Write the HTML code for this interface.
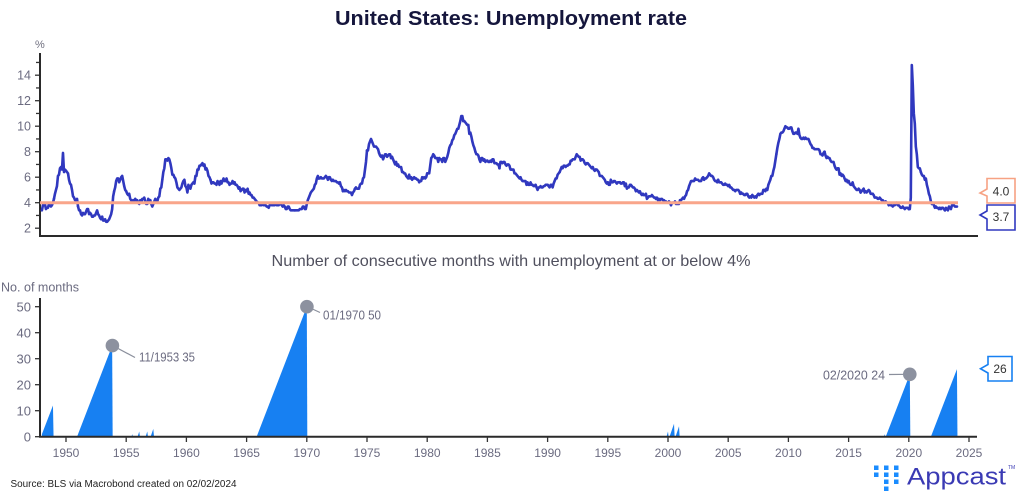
<!DOCTYPE html>
<html><head><meta charset="utf-8"><style>
html,body{margin:0;padding:0;background:#fff;}
svg{display:block;}
text{font-family:"Liberation Sans",sans-serif;}
</style></head><body>
<svg width="1024" height="502" viewBox="0 0 1024 502" xmlns="http://www.w3.org/2000/svg">
<rect width="1024" height="502" fill="#fff"/>
<!-- Title -->
<text x="511" y="25" text-anchor="middle" font-size="20" font-weight="bold" fill="#15163c" textLength="352" lengthAdjust="spacingAndGlyphs">United States: Unemployment rate</text>

<!-- TOP CHART -->
<text x="35" y="48" font-size="11" fill="#707080">%</text>
<g stroke="#333" stroke-width="1.3">
<line x1="35" y1="228.2" x2="40" y2="228.2"/><line x1="36" y1="215.45" x2="40" y2="215.45"/>
<line x1="35" y1="202.7" x2="40" y2="202.7"/><line x1="36" y1="189.95" x2="40" y2="189.95"/>
<line x1="35" y1="177.2" x2="40" y2="177.2"/><line x1="36" y1="164.45" x2="40" y2="164.45"/>
<line x1="35" y1="151.7" x2="40" y2="151.7"/><line x1="36" y1="138.95" x2="40" y2="138.95"/>
<line x1="35" y1="126.2" x2="40" y2="126.2"/><line x1="36" y1="113.45" x2="40" y2="113.45"/>
<line x1="35" y1="100.7" x2="40" y2="100.7"/><line x1="36" y1="87.95" x2="40" y2="87.95"/>
<line x1="35" y1="75.2" x2="40" y2="75.2"/><line x1="36" y1="62.45" x2="40" y2="62.45"/>
</g>
<g font-size="12.5" fill="#6b6b80" text-anchor="end">
<text x="31" y="232.5">2</text><text x="31" y="207">4</text><text x="31" y="181.5">6</text>
<text x="31" y="156">8</text><text x="31" y="130.5">10</text><text x="31" y="105">12</text><text x="31" y="79.5">14</text>
</g>
<line x1="40" y1="53" x2="40" y2="237" stroke="#2a2a2a" stroke-width="2"/>
<line x1="39" y1="236" x2="978" y2="236" stroke="#2a2a2a" stroke-width="2"/>

<g transform="matrix(1.00333 0 0 -12.75 41.92 253.7)" fill="none" stroke="#3038bf" stroke-width="2.6" stroke-linejoin="round" stroke-linecap="round">
<g vector-effect="non-scaling-stroke">
<polyline vector-effect="non-scaling-stroke" transform="translate(0,0)" points="0,3.4 1,3.8 2,4.0 3,3.9 4,3.5 5,3.6 6,3.6 7,3.9 8,3.8 9,3.7 10,3.8 11,4.0 12,4.3"/>
<polyline vector-effect="non-scaling-stroke" transform="translate(12,0)" points="0,4.3 1,4.7 2,5.0 3,5.3 4,6.1 5,6.2 6,6.7 7,6.8 8,6.6 9,7.9 10,6.4 11,6.6 12,6.5"/>
<polyline vector-effect="non-scaling-stroke" transform="translate(24,0)" points="0,6.5 1,6.4 2,6.3 3,5.8 4,5.5 5,5.4 6,5.0 7,4.5 8,4.4 9,4.2 10,4.2 11,4.3 12,3.7"/>
<polyline vector-effect="non-scaling-stroke" transform="translate(36,0)" points="0,3.7 1,3.4 2,3.4 3,3.1 4,3.0 5,3.2 6,3.1 7,3.1 8,3.3 9,3.5 10,3.5 11,3.1 12,3.2"/>
<polyline vector-effect="non-scaling-stroke" transform="translate(48,0)" points="0,3.2 1,3.1 2,2.9 3,2.9 4,3.0 5,3.0 6,3.2 7,3.4 8,3.1 9,3.0 10,2.8 11,2.7 12,2.9"/>
<polyline vector-effect="non-scaling-stroke" transform="translate(60,0)" points="0,2.9 1,2.6 2,2.6 3,2.7 4,2.5 5,2.5 6,2.6 7,2.7 8,2.9 9,3.1 10,3.5 11,4.5 12,4.9"/>
<polyline vector-effect="non-scaling-stroke" transform="translate(72,0)" points="0,4.9 1,5.2 2,5.7 3,5.9 4,5.9 5,5.6 6,5.8 7,6.0 8,6.1 9,5.7 10,5.3 11,5.0 12,4.9"/>
<polyline vector-effect="non-scaling-stroke" transform="translate(84,0)" points="0,4.9 1,4.7 2,4.6 3,4.7 4,4.3 5,4.2 6,4.0 7,4.2 8,4.1 9,4.3 10,4.2 11,4.2 12,4.0"/>
<polyline vector-effect="non-scaling-stroke" transform="translate(96,0)" points="0,4.0 1,3.9 2,4.2 3,4.0 4,4.3 5,4.3 6,4.4 7,4.1 8,3.9 9,3.9 10,4.3 11,4.2 12,4.2"/>
<polyline vector-effect="non-scaling-stroke" transform="translate(108,0)" points="0,4.2 1,3.9 2,3.7 3,3.9 4,4.1 5,4.3 6,4.2 7,4.1 8,4.4 9,4.5 10,5.1 11,5.2 12,5.8"/>
<polyline vector-effect="non-scaling-stroke" transform="translate(120,0)" points="0,5.8 1,6.4 2,6.7 3,7.4 4,7.4 5,7.3 6,7.5 7,7.4 8,7.1 9,6.7 10,6.2 11,6.2 12,6.0"/>
<polyline vector-effect="non-scaling-stroke" transform="translate(132,0)" points="0,6.0 1,5.9 2,5.6 3,5.2 4,5.1 5,5.0 6,5.1 7,5.2 8,5.5 9,5.7 10,5.8 11,5.3 12,5.2"/>
<polyline vector-effect="non-scaling-stroke" transform="translate(144,0)" points="0,5.2 1,4.8 2,5.4 3,5.2 4,5.1 5,5.4 6,5.5 7,5.6 8,5.5 9,6.1 10,6.1 11,6.6 12,6.6"/>
<polyline vector-effect="non-scaling-stroke" transform="translate(156,0)" points="0,6.6 1,6.9 2,6.9 3,7.0 4,7.1 5,6.9 6,7.0 7,6.6 8,6.7 9,6.5 10,6.1 11,6.0 12,5.8"/>
<polyline vector-effect="non-scaling-stroke" transform="translate(168,0)" points="0,5.8 1,5.5 2,5.6 3,5.6 4,5.5 5,5.5 6,5.4 7,5.7 8,5.6 9,5.4 10,5.7 11,5.5 12,5.7"/>
<polyline vector-effect="non-scaling-stroke" transform="translate(180,0)" points="0,5.7 1,5.9 2,5.7 3,5.7 4,5.9 5,5.6 6,5.6 7,5.4 8,5.5 9,5.5 10,5.7 11,5.5 12,5.6"/>
<polyline vector-effect="non-scaling-stroke" transform="translate(192,0)" points="0,5.6 1,5.4 2,5.4 3,5.3 4,5.1 5,5.2 6,4.9 7,5.0 8,5.1 9,5.1 10,4.8 11,5.0 12,4.9"/>
<polyline vector-effect="non-scaling-stroke" transform="translate(204,0)" points="0,4.9 1,5.1 2,4.7 3,4.8 4,4.6 5,4.6 6,4.4 7,4.4 8,4.3 9,4.2 10,4.1 11,4.0 12,4.0"/>
<polyline vector-effect="non-scaling-stroke" transform="translate(216,0)" points="0,4.0 1,3.8 2,3.8 3,3.8 4,3.9 5,3.8 6,3.8 7,3.8 8,3.7 9,3.7 10,3.6 11,3.8 12,3.9"/>
<polyline vector-effect="non-scaling-stroke" transform="translate(228,0)" points="0,3.9 1,3.8 2,3.8 3,3.8 4,3.8 5,3.9 6,3.8 7,3.8 8,3.8 9,4.0 10,3.9 11,3.8 12,3.7"/>
<polyline vector-effect="non-scaling-stroke" transform="translate(240,0)" points="0,3.7 1,3.8 2,3.7 3,3.5 4,3.5 5,3.7 6,3.7 7,3.5 8,3.4 9,3.4 10,3.4 11,3.4 12,3.4"/>
<polyline vector-effect="non-scaling-stroke" transform="translate(252,0)" points="0,3.4 1,3.4 2,3.4 3,3.4 4,3.4 5,3.5 6,3.5 7,3.5 8,3.7 9,3.7 10,3.5 11,3.5 12,3.9"/>
<polyline vector-effect="non-scaling-stroke" transform="translate(264,0)" points="0,3.9 1,4.2 2,4.4 3,4.6 4,4.8 5,4.9 6,5.0 7,5.1 8,5.4 9,5.5 10,5.9 11,6.1 12,5.9"/>
<polyline vector-effect="non-scaling-stroke" transform="translate(276,0)" points="0,5.9 1,5.9 2,6.0 3,5.9 4,5.9 5,5.9 6,6.0 7,6.1 8,6.0 9,5.8 10,6.0 11,6.0 12,5.8"/>
<polyline vector-effect="non-scaling-stroke" transform="translate(288,0)" points="0,5.8 1,5.7 2,5.8 3,5.7 4,5.7 5,5.7 6,5.6 7,5.6 8,5.5 9,5.6 10,5.3 11,5.2 12,4.9"/>
<polyline vector-effect="non-scaling-stroke" transform="translate(300,0)" points="0,4.9 1,5.0 2,4.9 3,5.0 4,4.9 5,4.9 6,4.8 7,4.8 8,4.8 9,4.6 10,4.8 11,4.9 12,5.1"/>
<polyline vector-effect="non-scaling-stroke" transform="translate(312,0)" points="0,5.1 1,5.2 2,5.1 3,5.1 4,5.1 5,5.4 6,5.5 7,5.5 8,5.9 9,6.0 10,6.6 11,7.2 12,8.1"/>
<polyline vector-effect="non-scaling-stroke" transform="translate(324,0)" points="0,8.1 1,8.1 2,8.6 3,8.8 4,9.0 5,8.8 6,8.6 7,8.4 8,8.4 9,8.4 10,8.3 11,8.2 12,7.9"/>
<polyline vector-effect="non-scaling-stroke" transform="translate(336,0)" points="0,7.9 1,7.7 2,7.6 3,7.7 4,7.4 5,7.6 6,7.8 7,7.8 8,7.6 9,7.7 10,7.8 11,7.8 12,7.5"/>
<polyline vector-effect="non-scaling-stroke" transform="translate(348,0)" points="0,7.5 1,7.6 2,7.4 3,7.2 4,7.0 5,7.2 6,6.9 7,7.0 8,6.8 9,6.8 10,6.8 11,6.4 12,6.4"/>
<polyline vector-effect="non-scaling-stroke" transform="translate(360,0)" points="0,6.4 1,6.3 2,6.3 3,6.1 4,6.0 5,5.9 6,6.2 7,5.9 8,6.0 9,5.8 10,5.9 11,6.0 12,5.9"/>
<polyline vector-effect="non-scaling-stroke" transform="translate(372,0)" points="0,5.9 1,5.9 2,5.8 3,5.8 4,5.6 5,5.7 6,5.7 7,6.0 8,5.9 9,6.0 10,5.9 11,6.0 12,6.3"/>
<polyline vector-effect="non-scaling-stroke" transform="translate(384,0)" points="0,6.3 1,6.3 2,6.3 3,6.9 4,7.5 5,7.6 6,7.8 7,7.7 8,7.5 9,7.5 10,7.5 11,7.2 12,7.5"/>
<polyline vector-effect="non-scaling-stroke" transform="translate(396,0)" points="0,7.5 1,7.4 2,7.4 3,7.2 4,7.5 5,7.5 6,7.2 7,7.4 8,7.6 9,7.9 10,8.3 11,8.5 12,8.6"/>
<polyline vector-effect="non-scaling-stroke" transform="translate(408,0)" points="0,8.6 1,8.9 2,9.0 3,9.3 4,9.4 5,9.6 6,9.8 7,9.8 8,10.1 9,10.4 10,10.8 11,10.8 12,10.4"/>
<polyline vector-effect="non-scaling-stroke" transform="translate(420,0)" points="0,10.4 1,10.4 2,10.3 3,10.2 4,10.1 5,10.1 6,9.4 7,9.5 8,9.2 9,8.8 10,8.5 11,8.3 12,8.0"/>
<polyline vector-effect="non-scaling-stroke" transform="translate(432,0)" points="0,8.0 1,7.8 2,7.8 3,7.7 4,7.4 5,7.2 6,7.5 7,7.5 8,7.3 9,7.4 10,7.2 11,7.3 12,7.3"/>
<polyline vector-effect="non-scaling-stroke" transform="translate(444,0)" points="0,7.3 1,7.2 2,7.2 3,7.3 4,7.2 5,7.4 6,7.4 7,7.1 8,7.1 9,7.1 10,7.0 11,7.0 12,6.7"/>
<polyline vector-effect="non-scaling-stroke" transform="translate(456,0)" points="0,6.7 1,7.2 2,7.2 3,7.1 4,7.2 5,7.2 6,7.0 7,6.9 8,7.0 9,7.0 10,6.9 11,6.6 12,6.6"/>
<polyline vector-effect="non-scaling-stroke" transform="translate(468,0)" points="0,6.6 1,6.6 2,6.6 3,6.3 4,6.3 5,6.2 6,6.1 7,6.0 8,5.9 9,6.0 10,5.8 11,5.7 12,5.7"/>
<polyline vector-effect="non-scaling-stroke" transform="translate(480,0)" points="0,5.7 1,5.7 2,5.7 3,5.4 4,5.6 5,5.4 6,5.4 7,5.6 8,5.4 9,5.4 10,5.3 11,5.3 12,5.4"/>
<polyline vector-effect="non-scaling-stroke" transform="translate(492,0)" points="0,5.4 1,5.2 2,5.0 3,5.2 4,5.2 5,5.3 6,5.2 7,5.2 8,5.3 9,5.3 10,5.4 11,5.4 12,5.4"/>
<polyline vector-effect="non-scaling-stroke" transform="translate(504,0)" points="0,5.4 1,5.3 2,5.2 3,5.4 4,5.4 5,5.2 6,5.5 7,5.7 8,5.9 9,5.9 10,6.2 11,6.3 12,6.4"/>
<polyline vector-effect="non-scaling-stroke" transform="translate(516,0)" points="0,6.4 1,6.6 2,6.8 3,6.7 4,6.9 5,6.9 6,6.8 7,6.9 8,6.9 9,7.0 10,7.0 11,7.3 12,7.3"/>
<polyline vector-effect="non-scaling-stroke" transform="translate(528,0)" points="0,7.3 1,7.4 2,7.4 3,7.4 4,7.6 5,7.8 6,7.7 7,7.6 8,7.6 9,7.3 10,7.4 11,7.4 12,7.3"/>
<polyline vector-effect="non-scaling-stroke" transform="translate(540,0)" points="0,7.3 1,7.1 2,7.0 3,7.1 4,7.1 5,7.0 6,6.9 7,6.8 8,6.7 9,6.8 10,6.6 11,6.5 12,6.6"/>
<polyline vector-effect="non-scaling-stroke" transform="translate(552,0)" points="0,6.6 1,6.6 2,6.5 3,6.4 4,6.1 5,6.1 6,6.1 7,6.0 8,5.9 9,5.8 10,5.6 11,5.5 12,5.6"/>
<polyline vector-effect="non-scaling-stroke" transform="translate(564,0)" points="0,5.6 1,5.4 2,5.4 3,5.8 4,5.6 5,5.6 6,5.7 7,5.7 8,5.6 9,5.5 10,5.6 11,5.6 12,5.6"/>
<polyline vector-effect="non-scaling-stroke" transform="translate(576,0)" points="0,5.6 1,5.5 2,5.5 3,5.6 4,5.6 5,5.3 6,5.5 7,5.1 8,5.2 9,5.2 10,5.4 11,5.4 12,5.3"/>
<polyline vector-effect="non-scaling-stroke" transform="translate(588,0)" points="0,5.3 1,5.2 2,5.2 3,5.1 4,4.9 5,5.0 6,4.9 7,4.8 8,4.9 9,4.7 10,4.6 11,4.7 12,4.6"/>
<polyline vector-effect="non-scaling-stroke" transform="translate(600,0)" points="0,4.6 1,4.6 2,4.7 3,4.3 4,4.4 5,4.5 6,4.5 7,4.5 8,4.6 9,4.5 10,4.4 11,4.4 12,4.3"/>
<polyline vector-effect="non-scaling-stroke" transform="translate(612,0)" points="0,4.3 1,4.4 2,4.2 3,4.3 4,4.2 5,4.3 6,4.3 7,4.2 8,4.2 9,4.1 10,4.1 11,4.0 12,4.0"/>
<polyline vector-effect="non-scaling-stroke" transform="translate(624,0)" points="0,4.0 1,4.1 2,4.0 3,3.8 4,4.0 5,4.0 6,4.0 7,4.1 8,3.9 9,3.9 10,3.9 11,3.9 12,4.2"/>
<polyline vector-effect="non-scaling-stroke" transform="translate(636,0)" points="0,4.2 1,4.2 2,4.3 3,4.4 4,4.3 5,4.5 6,4.6 7,4.9 8,5.0 9,5.3 10,5.5 11,5.7 12,5.7"/>
<polyline vector-effect="non-scaling-stroke" transform="translate(648,0)" points="0,5.7 1,5.7 2,5.7 3,5.9 4,5.8 5,5.8 6,5.8 7,5.7 8,5.7 9,5.7 10,5.9 11,6.0 12,5.8"/>
<polyline vector-effect="non-scaling-stroke" transform="translate(660,0)" points="0,5.8 1,5.9 2,5.9 3,6.0 4,6.1 5,6.3 6,6.2 7,6.1 8,6.1 9,6.0 10,5.8 11,5.7 12,5.7"/>
<polyline vector-effect="non-scaling-stroke" transform="translate(672,0)" points="0,5.7 1,5.6 2,5.8 3,5.6 4,5.6 5,5.6 6,5.5 7,5.4 8,5.4 9,5.5 10,5.4 11,5.4 12,5.3"/>
<polyline vector-effect="non-scaling-stroke" transform="translate(684,0)" points="0,5.3 1,5.4 2,5.2 3,5.2 4,5.1 5,5.0 6,5.0 7,4.9 8,5.0 9,5.0 10,5.0 11,4.9 12,4.7"/>
<polyline vector-effect="non-scaling-stroke" transform="translate(696,0)" points="0,4.7 1,4.8 2,4.7 3,4.7 4,4.6 5,4.6 6,4.7 7,4.7 8,4.5 9,4.4 10,4.5 11,4.4 12,4.6"/>
<polyline vector-effect="non-scaling-stroke" transform="translate(708,0)" points="0,4.6 1,4.5 2,4.4 3,4.5 4,4.4 5,4.6 6,4.7 7,4.6 8,4.7 9,4.7 10,4.7 11,5.0 12,5.0"/>
<polyline vector-effect="non-scaling-stroke" transform="translate(720,0)" points="0,5.0 1,4.9 2,5.1 3,5.0 4,5.4 5,5.6 6,5.8 7,6.1 8,6.1 9,6.5 10,6.8 11,7.3 12,7.8"/>
<polyline vector-effect="non-scaling-stroke" transform="translate(732,0)" points="0,7.8 1,8.3 2,8.7 3,9.0 4,9.4 5,9.5 6,9.5 7,9.6 8,9.8 9,10.0 10,9.9 11,9.9 12,9.8"/>
<polyline vector-effect="non-scaling-stroke" transform="translate(744,0)" points="0,9.8 1,9.8 2,9.9 3,9.9 4,9.6 5,9.4 6,9.4 7,9.5 8,9.5 9,9.4 10,9.8 11,9.3 12,9.1"/>
<polyline vector-effect="non-scaling-stroke" transform="translate(756,0)" points="0,9.1 1,9.0 2,9.0 3,9.1 4,9.0 5,9.1 6,9.0 7,9.0 8,9.0 9,8.8 10,8.6 11,8.5 12,8.3"/>
<polyline vector-effect="non-scaling-stroke" transform="translate(768,0)" points="0,8.3 1,8.3 2,8.2 3,8.2 4,8.2 5,8.2 6,8.2 7,8.1 8,7.8 9,7.8 10,7.7 11,7.9 12,8.0"/>
<polyline vector-effect="non-scaling-stroke" transform="translate(780,0)" points="0,8.0 1,7.7 2,7.5 3,7.6 4,7.5 5,7.5 6,7.3 7,7.2 8,7.2 9,7.2 10,6.9 11,6.7 12,6.6"/>
<polyline vector-effect="non-scaling-stroke" transform="translate(792,0)" points="0,6.6 1,6.7 2,6.7 3,6.2 4,6.3 5,6.1 6,6.2 7,6.1 8,5.9 9,5.7 10,5.8 11,5.6 12,5.7"/>
<polyline vector-effect="non-scaling-stroke" transform="translate(804,0)" points="0,5.7 1,5.5 2,5.4 3,5.4 4,5.6 5,5.3 6,5.2 7,5.1 8,5.0 9,5.0 10,5.1 11,5.0 12,4.8"/>
<polyline vector-effect="non-scaling-stroke" transform="translate(816,0)" points="0,4.8 1,4.9 2,5.0 3,5.1 4,4.8 5,4.9 6,4.8 7,4.9 8,5.0 9,4.9 10,4.7 11,4.7 12,4.7"/>
<polyline vector-effect="non-scaling-stroke" transform="translate(828,0)" points="0,4.7 1,4.6 2,4.4 3,4.4 4,4.4 5,4.3 6,4.3 7,4.4 8,4.3 9,4.2 10,4.2 11,4.1 12,4.0"/>
<polyline vector-effect="non-scaling-stroke" transform="translate(840,0)" points="0,4.0 1,4.1 2,4.0 3,4.0 4,3.8 5,4.0 6,3.8 7,3.8 8,3.7 9,3.8 10,3.8 11,3.9 12,4.0"/>
<polyline vector-effect="non-scaling-stroke" transform="translate(852,0)" points="0,4.0 1,3.8 2,3.8 3,3.7 4,3.6 5,3.6 6,3.7 7,3.6 8,3.5 9,3.6 10,3.6 11,3.6 12,3.5"/>
<polyline vector-effect="non-scaling-stroke" transform="translate(864,0)" points="0,3.5 1,3.5 2,4.4 3,14.8 4,13.2 5,11.0 6,10.2 7,8.4 8,7.8 9,6.8 10,6.7 11,6.7 12,6.4"/>
<polyline vector-effect="non-scaling-stroke" transform="translate(876,0)" points="0,6.4 1,6.2 2,6.1 3,6.1 4,5.8 5,5.9 6,5.4 7,5.1 8,4.7 9,4.5 10,4.1 11,3.9 12,4.0"/>
<polyline vector-effect="non-scaling-stroke" transform="translate(888,0)" points="0,4.0 1,3.8 2,3.6 3,3.7 4,3.6 5,3.6 6,3.5 7,3.6 8,3.5 9,3.6 10,3.6 11,3.5 12,3.4"/>
<polyline vector-effect="non-scaling-stroke" transform="translate(900,0)" points="0,3.4 1,3.6 2,3.5 3,3.4 4,3.7 5,3.6 6,3.5 7,3.8 8,3.8 9,3.8 10,3.7 11,3.7 12,3.7"/>
</g>
</g>

<line x1="40" y1="202.7" x2="958" y2="202.7" stroke="#f9a58a" stroke-width="3"/>

<!-- right labels top -->
<polygon points="987,178.5 1015,178.5 1015,203 987,203 987,196 980,193 987,189" fill="#fff" stroke="#f7a283" stroke-width="1.6"/>
<text x="1001" y="195.5" font-size="12" fill="#333" text-anchor="middle">4.0</text>
<polygon points="987,205 1015,205 1015,230 987,230 987,219 980,215 987,211" fill="#fff" stroke="#3038bf" stroke-width="1.6"/>
<text x="1001" y="221" font-size="12" fill="#333" text-anchor="middle">3.7</text>

<!-- Subtitle -->
<text x="511" y="266" text-anchor="middle" font-size="16" fill="#50505e" textLength="479" lengthAdjust="spacingAndGlyphs">Number of consecutive months with unemployment at or below 4%</text>

<!-- BOTTOM CHART -->
<text x="1" y="291.5" font-size="12.5" fill="#6b6b80" textLength="78" lengthAdjust="spacingAndGlyphs">No. of months</text>
<g stroke="#333" stroke-width="1.3">
<line x1="35" y1="436.7" x2="40" y2="436.7"/><line x1="35" y1="410.7" x2="40" y2="410.7"/>
<line x1="35" y1="384.7" x2="40" y2="384.7"/><line x1="35" y1="358.7" x2="40" y2="358.7"/>
<line x1="35" y1="332.7" x2="40" y2="332.7"/><line x1="35" y1="306.7" x2="40" y2="306.7"/>
</g>
<g font-size="13" fill="#6b6b80" text-anchor="end">
<text x="31" y="441.3">0</text><text x="31" y="415.3">10</text><text x="31" y="389.3">20</text>
<text x="31" y="363.3">30</text><text x="31" y="337.3">40</text><text x="31" y="311.3">50</text>
</g>

<g transform="matrix(1.00333 0 0 -2.6 41.92 436.7)" fill="#1780f2" stroke="none">
<polygon points="0,0 0,1 11,12 11.6,0"/>
<polygon points="35,0 70,35 70.5,0"/>
<polygon points="89.3,0 90,1 90.7,0"/>
<polygon points="95.3,0 97,2 97.7,0"/>
<polygon points="103.3,0 105,2 105.7,0"/>
<polygon points="108.3,0 111,3 111.7,0"/>
<polygon points="214,0 264,50 264.5,0"/>
<polygon points="622.5,0 624,2 624.6,0 625.5,0 630,5 630.6,0 631.5,0 635,4 635.6,0"/>
<polygon points="839.3,0 840,1 840.7,0"/>
<polygon points="841,0 865,24 865.5,0"/>
<polygon points="886,0 912,26 912.5,0"/>
</g>

<line x1="40" y1="298" x2="40" y2="437.5" stroke="#2a2a2a" stroke-width="2"/>
<line x1="39" y1="436.7" x2="977" y2="436.7" stroke="#2a2a2a" stroke-width="2"/>
<g stroke="#333" stroke-width="1.3">
<line x1="66" y1="437" x2="66" y2="442"/><line x1="126.2" y1="437" x2="126.2" y2="442"/>
<line x1="186.4" y1="437" x2="186.4" y2="442"/><line x1="246.6" y1="437" x2="246.6" y2="442"/>
<line x1="306.8" y1="437" x2="306.8" y2="442"/><line x1="367" y1="437" x2="367" y2="442"/>
<line x1="427.2" y1="437" x2="427.2" y2="442"/><line x1="487.4" y1="437" x2="487.4" y2="442"/>
<line x1="547.6" y1="437" x2="547.6" y2="442"/><line x1="607.8" y1="437" x2="607.8" y2="442"/>
<line x1="668" y1="437" x2="668" y2="442"/><line x1="728.2" y1="437" x2="728.2" y2="442"/>
<line x1="788.4" y1="437" x2="788.4" y2="442"/><line x1="848.6" y1="437" x2="848.6" y2="442"/>
<line x1="908.8" y1="437" x2="908.8" y2="442"/><line x1="969" y1="437" x2="969" y2="442"/>
</g>
<g font-size="12" fill="#6b6b80" text-anchor="middle">
<text x="66" y="457">1950</text><text x="126.2" y="457">1955</text><text x="186.4" y="457">1960</text>
<text x="246.6" y="457">1965</text><text x="306.8" y="457">1970</text><text x="367" y="457">1975</text>
<text x="427.2" y="457">1980</text><text x="487.4" y="457">1985</text><text x="547.6" y="457">1990</text>
<text x="607.8" y="457">1995</text><text x="668" y="457">2000</text><text x="728.2" y="457">2005</text>
<text x="788.4" y="457">2010</text><text x="848.6" y="457">2015</text><text x="908.8" y="457">2020</text>
<text x="969" y="457">2025</text>
</g>

<!-- annotations -->
<g stroke="#8a8f9c" stroke-width="1.2">
<line x1="112.5" y1="345.5" x2="135" y2="357.5"/>
<line x1="307" y1="306.5" x2="320" y2="312.5"/>
<line x1="889" y1="374.5" x2="909" y2="374.3"/>
</g>
<circle cx="112.4" cy="345.6" r="6.8" fill="#8c919f"/>
<circle cx="306.9" cy="306.7" r="6.8" fill="#8c919f"/>
<circle cx="909.8" cy="374.3" r="6.8" fill="#8c919f"/>
<g font-size="12.5" fill="#6b6b80">
<text x="139" y="361.5" textLength="56" lengthAdjust="spacingAndGlyphs">11/1953 35</text>
<text x="323" y="319.5" textLength="58" lengthAdjust="spacingAndGlyphs">01/1970 50</text>
<text x="823" y="379.5" textLength="62" lengthAdjust="spacingAndGlyphs">02/2020 24</text>
</g>

<polygon points="988,356.5 1012,356.5 1012,381 988,381 988,373 980.5,368.7 988,364.5" fill="#fff" stroke="#1780f2" stroke-width="1.6"/>
<text x="1000" y="373" font-size="12" fill="#333" text-anchor="middle">26</text>

<!-- Footer -->
<text x="10.5" y="487" font-size="10" fill="#222" textLength="226" lengthAdjust="spacingAndGlyphs">Source: BLS via Macrobond created on 02/02/2024</text>

<!-- Appcast logo -->
<g fill="#1a8cff">
<rect x="874" y="465.5" width="4.5" height="4.5"/><rect x="874" y="472.5" width="4.5" height="4.5"/>
<rect x="884" y="465.5" width="4.5" height="4.5"/><rect x="884" y="472.5" width="4.5" height="4.5"/>
<rect x="884" y="479.5" width="4.5" height="4.5"/><rect x="884" y="486.5" width="4.5" height="4.5"/>
<rect x="894" y="465.5" width="4.5" height="4.5"/><rect x="894" y="472.5" width="4.5" height="4.5"/>
<rect x="894" y="479.5" width="4.5" height="4.5"/>
</g>
<text x="907" y="484.5" font-size="24" fill="#3a3ab4" textLength="99" lengthAdjust="spacingAndGlyphs">Appcast</text>
<text x="1008" y="469" font-size="5" fill="#3a3ab4">TM</text>
</svg>
</body></html>
